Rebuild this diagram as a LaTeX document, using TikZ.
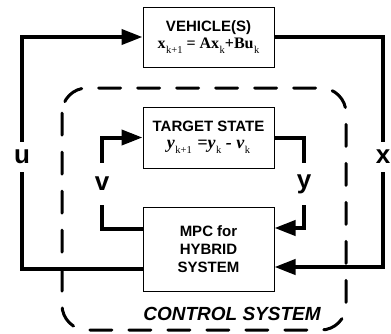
\documentclass[tikz,border=0pt]{standalone}
\usepackage{fontspec}
\setmainfont{Liberation Serif}
\setsansfont{Liberation Sans}
\usetikzlibrary{arrows.meta}
\newcommand{\sbs}[1]{\kern0.5pt\raisebox{-0.3em}{\fontsize{10.5}{10.5}\selectfont\mdseries\upshape #1}}
\begin{document}
\begin{tikzpicture}[x=1pt,y=-1pt,
  box/.style={draw, line width=1pt, inner sep=0pt, align=center, font=\sffamily\bfseries\fontsize{15}{18}\selectfont},
  sig/.style={line width=4pt},
  arr/.style={sig, -{Triangle[length=21pt,width=15pt]}},
  lab/.style={font=\sffamily\bfseries\fontsize{26}{26}\selectfont, inner sep=0pt, minimum height=30pt},
  slab/.style={font=\sffamily\bfseries\fontsize{26}{26}\selectfont, inner sep=0pt, minimum height=42pt},
  dashbox/.style={line width=3pt, line cap=round, dash pattern=on 22pt off 17pt, rounded corners=25pt}
]
\useasboundingbox (0,0) rectangle (391,333);

\draw[dashbox] (62,88) rectangle (346,330);

\node[box, minimum width=131pt, minimum height=60pt] (veh) at (208.5,37)
  {VEHICLE(S)\\[-1pt]
   {\rmfamily\bfseries\fontsize{16}{18}\selectfont x\sbs{k+1} = Ax\sbs{k}+Bu\sbs{k}}};
\node[box, minimum width=131pt, minimum height=61pt] (tgt) at (208.5,137.5)
  {TARGET STATE\\[-1pt]
   {\rmfamily\itshape\fontsize{18}{20}\selectfont y\sbs{k+1} \kern1pt=y\sbs{k} - v\sbs{k}}};
\node[box, minimum width=131pt, minimum height=84pt] (mpc) at (208.5,249)
  {MPC for\\HYBRID\\SYSTEM};

\node[lab] (ul) at (22,157) {u};
\node[lab] (xl) at (383,157) {x};
\node[slab] (vl) at (102,184) {v};
\node[slab] (yl) at (304,184) {y};

\node[font=\sffamily\bfseries\itshape\fontsize{19}{19}\selectfont, inner sep=0pt] (cs) at (232,314) {CONTROL SYSTEM};

% u loop
\draw[sig] ([yshift=-20pt]mpc.west) -| (ul.south);
\draw[arr] (ul.north) |- (veh.west);
% x loop
\draw[sig] (veh.east) -| (xl.north);
\draw[arr] (xl.south) |- ([yshift=-18pt]mpc.east);
% y loop
\draw[sig] (tgt.east) -| (yl.north);
\draw[arr] (yl.south) |- ([yshift=21pt]mpc.east);
% v loop
\draw[sig] ([yshift=20pt]mpc.west) -| (vl.south);
\draw[arr] (vl.north) |- (tgt.west);
\end{tikzpicture}
\end{document}
